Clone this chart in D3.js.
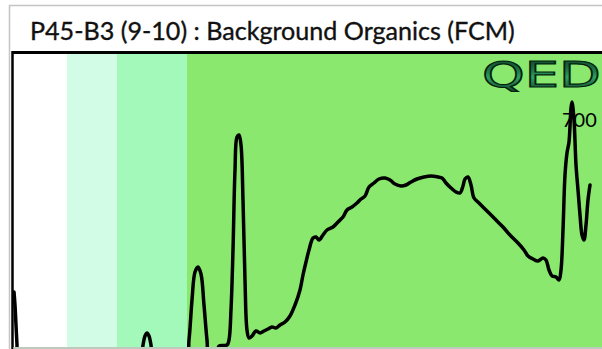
<!DOCTYPE html>
<html><head><meta charset="utf-8">
<script src="https://cdn.jsdelivr.net/npm/d3@7"></script>
<style>html,body{margin:0;padding:0;background:#fff;overflow:hidden}</style>
</head><body>
<script>
// ---- data (scan index vs detector response) ----
const title = "P45-B3 (9-10) : Background Organics (FCM)";
const peakLabel = "700";
const logoText = "QED";
// shaded retention windows [start, end] in scan units and their colours
const bandStarts = [0, 53, 103, 173];
const bandEnds   = [53, 103, 173, 588];
const bandColors = ["#ffffff", "#d3fce6", "#a2f9ba", "#89e86d"];
const scan = [0,1,2,3,4,
  126,129,131,133,135,137,139,
  172,175,178,181,184,187,190,193,195,
  203,205,213,215,217,219,221,223,225,227,229,231,233,235,238,242,246,250,254,258,262,266,271,276,281,286,289,292,295,299,302,305,309,313,319,324,329,333,338,343,347,351,355,360,365,371,376,381,387,392,397,403,410,417,424,428,432,437,442,446,449,451,454,457,460,465,472,480,488,496,504,510,514,519,524,529,532,535,538,542,545,547,549,551,553,555,557,558,560,562,564,566,568,570,572,574,576];
const response = [55,42,22,2,-13,
  -13,2,11,14,11,2,-13,
  -13,7,47,75,80,73,42,7,-8,
  -5,1,2,7,37,97,177,210,212,202,147,67,17,9,11,16,14,16,18,20,19,22,25,31,42,57,72,85,97,109,110,107,112,117,120,125,130,137,140,144,148,151,160,164,168,169,167,163,161,162,165,168,170,171,170,169,164,159,155,154,161,168,170,162,149,144,137,129,121,112,104,97,91,88,86,89,87,77,71,70,67,77,117,172,194,205,239,245,227,182,157,132,112,107,122,147,162];

const W = 602, H = 349;
const svg = d3.select("body").append("svg").attr("width", W).attr("height", H);

// outer frame
svg.append("rect").attr("x", 9.5).attr("y", 5.5).attr("width", W).attr("height", H)
  .attr("fill", "#fff").attr("stroke", "#c4c4c4").attr("stroke-width", 1.5);

// title
const t = svg.append("text").attr("x", 30).attr("y", 40)
  .attr("font-family", "Lato, 'Open Sans', sans-serif").attr("font-size", 22)
  .attr("fill", "#111").attr("stroke", "#111").attr("stroke-width", 0.35).text(title);
const tw = t.node().getComputedTextLength();
t.attr("font-size", 22 * 485 / tw);

// plot area
const plot = {left: 13, top: 53, right: 602, bottom: 347};
const x = d3.scaleLinear().domain([0, 588]).range([14, 602]);
const y = d3.scaleLinear().domain([0, 295]).range([347, 52]);

svg.append("clipPath").attr("id", "clip").append("rect")
  .attr("x", plot.left).attr("y", plot.top).attr("width", plot.right - plot.left).attr("height", plot.bottom - plot.top);

const g = svg.append("g").attr("clip-path", "url(#clip)");
g.selectAll("rect.band").data(bandStarts).join("rect").attr("class", "band")
  .attr("x", (d) => x(d)).attr("width", (d, i) => x(bandEnds[i]) - x(d))
  .attr("y", plot.top).attr("height", plot.bottom - plot.top)
  .attr("fill", (d, i) => bandColors[i]);

// logo
const defs = svg.append("defs");
const lg = defs.append("linearGradient").attr("id", "lg").attr("x1", 0).attr("y1", 0).attr("x2", 0).attr("y2", 1);
lg.append("stop").attr("offset", "0%").attr("stop-color", "#0a3a20");
lg.append("stop").attr("offset", "40%").attr("stop-color", "#1f7a48");
lg.append("stop").attr("offset", "55%").attr("stop-color", "#2fa060");
lg.append("stop").attr("offset", "100%").attr("stop-color", "#082f1a");
g.append("text").attr("transform", "translate(482,87) scale(1.55,1)")
  .attr("font-family", "'DejaVu Sans', sans-serif").attr("font-size", 35)
  .attr("fill", "url(#lg)").attr("stroke", "#041f10").attr("stroke-width", 1.2)
  .text(logoText);

// peak label
g.append("text").attr("x", 562).attr("y", 127)
  .attr("font-family", "Lato, sans-serif").attr("font-size", 20).attr("fill", "#000").text(peakLabel);

// chromatogram trace
const pts = scan.map((s, i) => [s, response[i]]);
g.append("path").datum(pts)
  .attr("d", d3.line().x(d => x(d[0])).y(d => y(d[1])).curve(d3.curveCatmullRom.alpha(0.5)))
  .attr("fill", "none").attr("stroke", "#000").attr("stroke-width", 3.5)
  .attr("stroke-linejoin", "round").attr("stroke-linecap", "round");

// plot borders
svg.append("line").attr("x1", plot.left).attr("x2", W).attr("y1", 52.5).attr("y2", 52.5)
  .attr("stroke", "#000").attr("stroke-width", 3);
svg.append("line").attr("x1", 12.5).attr("x2", 12.5).attr("y1", 51).attr("y2", H)
  .attr("stroke", "#000").attr("stroke-width", 2.5);
svg.append("line").attr("x1", plot.left).attr("x2", W).attr("y1", 348).attr("y2", 348)
  .attr("stroke", "#a9b8a9").attr("stroke-width", 1.5);
</script>
</body></html>
